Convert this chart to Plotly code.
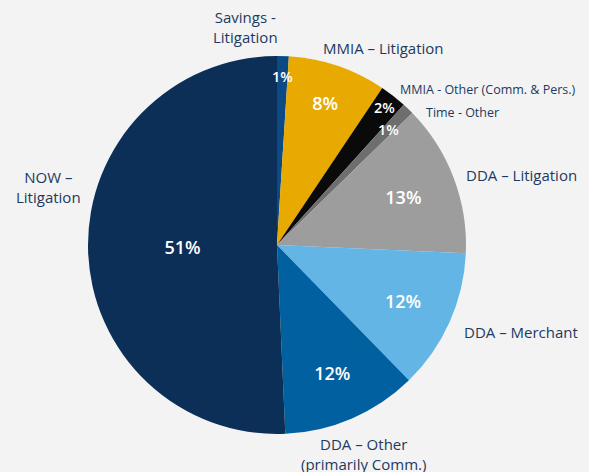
import math
import plotly.graph_objects as go

categories = ["Savings - Litigation", "MMIA – Litigation", "MMIA - Other (Comm. & Pers.)",
              "Time - Other", "DDA – Litigation", "DDA – Merchant",
              "DDA – Other (primarily Comm.)", "NOW – Litigation"]
values = [1.0, 8.4, 2.3, 1.0, 13.0, 12.0, 11.6, 50.7]
colors = ["#0c4a85", "#e8a900", "#0a0a0a", "#6e6e6e", "#9d9d9d", "#63b5e6", "#0060a0", "#0b2f57"]

W, H = 589, 472
cx, cy, r = 277, 245, 189
SMALL = 5
small_radii = [0.89, 0.925, 0.85]  # radial placement of the thin-slice labels, in order

total = sum(values)
templates = ["" if v < SMALL else "%{percent:.0%}" for v in values]

pct_font = dict(family="Open Sans", size=18, color="white", weight=600)
fig = go.Figure(go.Pie(
    labels=categories, values=values, sort=False, direction="clockwise", rotation=0,
    marker=dict(colors=colors, line=dict(width=0)),
    texttemplate=templates, textposition="inside", insidetextorientation="horizontal",
    textfont=pct_font,
    showlegend=False, hoverinfo="label+percent",
    domain=dict(x=[(cx - r) / W, (cx + r) / W], y=[(H - cy - r) / H, (H - cy + r) / H]),
))

# percent labels of the thin slices, placed at their mid-angle near the rim
cum = 0.0
k = 0
for v in values:
    mid = (cum + v / 2) / total * 2 * math.pi
    cum += v
    if v < SMALL:
        rr = small_radii[k] * r
        k += 1
        px = cx + rr * math.sin(mid)
        py = cy - rr * math.cos(mid)
        fig.add_annotation(text=f"{round(v / total * 100)}%", x=px / W, y=1 - py / H,
                           xref="paper", yref="paper", showarrow=False,
                           font=dict(family="Open Sans", size=14.5, color="white", weight=600),
                           xanchor="center", yanchor="middle")

lab_font = dict(family="Open Sans", size=15, color="#1c3a60")
small_font = dict(family="Open Sans", size=12.5, color="#1c3a60")
ann = [
    ("Savings -<br>Litigation", 245, 27, lab_font),
    ("MMIA – Litigation", 383, 48, lab_font),
    ("MMIA - Other (Comm. & Pers.)", 488, 89, small_font),
    ("Time - Other", 462, 112, small_font),
    ("DDA – Litigation", 521, 175, lab_font),
    ("DDA – Merchant", 521, 332, lab_font),
    ("DDA – Other<br>(primarily Comm.)", 363, 454, lab_font),
    ("NOW –<br>Litigation", 48, 187, lab_font),
]
for t, x, y, f in ann:
    fig.add_annotation(text=t, x=x / W, y=1 - y / H, xref="paper", yref="paper",
                       showarrow=False, font=f, align="center", xanchor="center", yanchor="middle")

fig.update_layout(
    width=W, height=H, margin=dict(l=0, r=0, t=0, b=0),
    paper_bgcolor="#f3f3f3", plot_bgcolor="#f3f3f3",
    uniformtext=dict(minsize=16, mode="show"),
)
fig.write_html("out.html", config=dict(displayModeBar=False), post_script=(
    "document.body.style.margin='0';document.body.style.overflow='hidden';"
    "document.body.style.background='#f3f3f3';"))
